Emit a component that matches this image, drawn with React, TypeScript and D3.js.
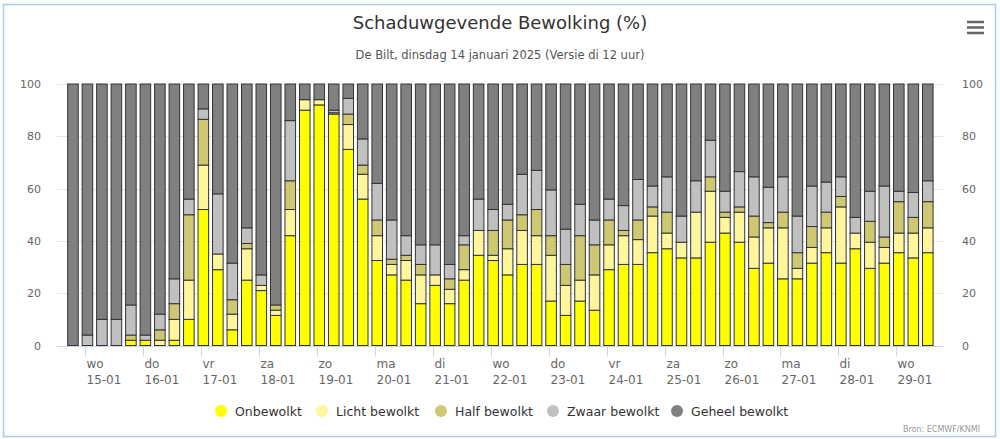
import React from "react";
import * as d3 from "d3";

// 6-hourly steps; hour offsets relative to 15-01 00:00 (local)
const firstHour = -5;
const stepHours = 6;

const onbewolkt = [0, 0, 0, 0, 2, 2, 0, 2, 10, 52, 29, 6, 25, 21, 11.5, 42, 90, 92, 88.5, 75, 56, 32.5, 27, 25, 16, 23, 16, 25, 34.5, 32.5, 27, 31, 31, 17, 11.5, 17, 13.5, 29, 31, 31, 35.5, 37, 33.5, 33.5, 39.5, 43, 39.5, 29.5, 31.5, 25.5, 25.5, 31.5, 35.5, 31.5, 37, 29.5, 31.5, 35.5, 33.5, 35.5];
const lichtBewolkt = [0, 0, 0, 0, 0, 0, 2, 8, 15, 17, 6, 6, 12, 2, 2, 10, 4, 2, 0.5, 9.5, 9.5, 9.5, 4, 7.5, 11, 4, 5.5, 4, 9.5, 2, 10, 13, 11, 17.5, 11.5, 8, 13.5, 9.5, 11, 9.5, 14, 6, 6, 17.5, 19.5, 6, 11.5, 12, 13.5, 19.5, 4, 6, 9.5, 21.5, 6, 10, 6, 7.5, 9.5, 9.5];
const halfBewolkt = [0, 0, 0, 0, 2, 0, 4, 6, 25, 17.5, 0, 5.5, 2, 0, 2, 11, 0, 0, 0, 4, 3.5, 6, 2, 2, 4, 0, 4, 9.5, 0, 9.5, 11, 6, 10, 7.5, 8, 17, 11.5, 9.5, 2, 7.5, 3.5, 8, 0, 0, 5.5, 2, 2, 8, 2, 6, 6, 8, 6, 4, 0, 8, 4, 12, 6, 10];
const zwaarBewolkt = [0, 4, 10, 10, 11.5, 2, 6, 9.5, 6, 4, 23, 14, 6, 4, 0, 23, 0, 0, 1, 6, 10, 14, 15, 7.5, 7.5, 11.5, 5.5, 3.5, 12, 8, 6, 15.5, 15, 17.5, 13.5, 12, 9.5, 8, 9.5, 15.5, 8, 13.5, 10, 12, 14, 8, 13.5, 15, 13.5, 13.5, 14, 15.5, 11.5, 7.5, 6, 11.5, 19.5, 4, 9.5, 8];
const geheelBewolkt = [100, 96, 90, 90, 84.5, 96, 88, 74.5, 44, 9.5, 42, 68.5, 55, 73, 84.5, 14, 6, 6, 10, 5.5, 21, 38, 52, 58, 61.5, 61.5, 69, 58, 44, 48, 46, 34.5, 33, 40.5, 55.5, 46, 52, 44, 46.5, 36.5, 39, 35.5, 50.5, 37, 21.5, 41, 33.5, 35.5, 39.5, 35.5, 50.5, 39, 37.5, 35.5, 51, 41, 39, 41, 41.5, 37];

const seriesNames = ["Onbewolkt", "Licht bewolkt", "Half bewolkt", "Zwaar bewolkt", "Geheel bewolkt"];
const seriesColors = ["#ffff00", "#fff59a", "#cfc872", "#c0c0c0", "#808080"];

const dayNames = ["wo", "do", "vr", "za", "zo", "ma", "di", "wo", "do", "vr", "za", "zo", "ma", "di", "wo"];
const dayDates = ["15-01", "16-01", "17-01", "18-01", "19-01", "20-01", "21-01", "22-01", "23-01", "24-01", "25-01", "26-01", "27-01", "28-01", "29-01"];
const yTicks = [0, 20, 40, 60, 80, 100];

const W = 1000;
const H = 439;
const plotLeft = 57;
const plotRight = 943;
const plotTop = 84;
const plotBottom = 345.5;

export default function App() {
  const allSeries = [onbewolkt, lichtBewolkt, halfBewolkt, zwaarBewolkt, geheelBewolkt];
  const rows = onbewolkt.map((_, i) => {
    const r: any = { hour: firstHour + i * stepHours };
    seriesNames.forEach((n, k) => (r[n] = allSeries[k][i]));
    return r;
  });
  const stacked = d3.stack().keys(seriesNames)(rows);

  const x = d3.scaleLinear().domain([-11.6, 355.3]).range([plotLeft, plotRight]);
  const y = d3.scaleLinear().domain([0, 100]).range([plotBottom, plotTop]);
  const pitch = x(stepHours) - x(0);
  const barW = pitch * 0.73;

  const font = "DejaVu Sans, Verdana, sans-serif";
  const legendX = [221, 322, 441, 553, 677];

  return (
    <svg width={W} height={H} style={{ position: "absolute", left: 0, top: 0, background: "#fff" }} fontFamily={font}>
      <rect x={0} y={0} width={W} height={H} fill="#fff" />
      <rect x={3.5} y={4.5} width={992} height={432} fill="none" stroke="#abc8ee" strokeWidth={1.5} />
      <text x={500} y={29} textAnchor="middle" fontSize={18} fill="#333">Schaduwgevende Bewolking (%)</text>
      <text x={500} y={59} textAnchor="middle" fontSize={11.5} fill="#555">De Bilt, dinsdag 14 januari 2025 (Versie di 12 uur)</text>
      <g stroke="#666" strokeWidth={2.5} strokeLinecap="butt">
        <line x1={967} x2={984} y1={22} y2={22} />
        <line x1={967} x2={984} y1={27.5} y2={27.5} />
        <line x1={967} x2={984} y1={33} y2={33} />
      </g>
      {yTicks.map((t) => (
        <g key={t}>
          <line x1={plotLeft} x2={plotRight} y1={Math.round(y(t)) + 0.5} y2={Math.round(y(t)) + 0.5} stroke="#e6e6e6" />
          <text x={41} y={y(t) + 4} textAnchor="end" fontSize={11} fill="#666">{t}</text>
          <text x={962} y={y(t) + 4} textAnchor="start" fontSize={11} fill="#666">{t}</text>
        </g>
      ))}
      <line x1={plotLeft} x2={plotRight} y1={346.5} y2={346.5} stroke="#ccd6eb" />
      {dayDates.map((d, k) => {
        const tx = Math.round(x(k * 24)) + 0.5;
        return (
          <g key={d}>
            <line x1={tx} x2={tx} y1={346.5} y2={356.5} stroke="#ccd6eb" />
            <text x={tx + 1} y={368} fontSize={12} fill="#666">{dayNames[k]}</text>
            <text x={tx + 1} y={384} fontSize={12} fill="#666">{d}</text>
          </g>
        );
      })}
      {stacked.map((layer, k) => (
        <g key={layer.key} fill={seriesColors[k]} stroke="#333" strokeWidth={1}>
          {layer.map((seg, i) => {
            const h = y(seg[0]) - y(seg[1]);
            if (h <= 0) return null;
            return (
              <rect key={i} x={x(rows[i].hour) - barW / 2} y={y(seg[1])} width={barW} height={h} />
            );
          })}
        </g>
      ))}
      {seriesNames.map((n, k) => (
        <g key={n}>
          <circle cx={legendX[k]} cy={411} r={6} fill={seriesColors[k]} />
          <text x={legendX[k] + 14} y={415.5} fontSize={12.5} fill="#333">{n}</text>
        </g>
      ))}
      <text x={980} y={432} textAnchor="end" fontSize={8} fill="#999">Bron: ECMWF/KNMI</text>
    </svg>
  );
}
